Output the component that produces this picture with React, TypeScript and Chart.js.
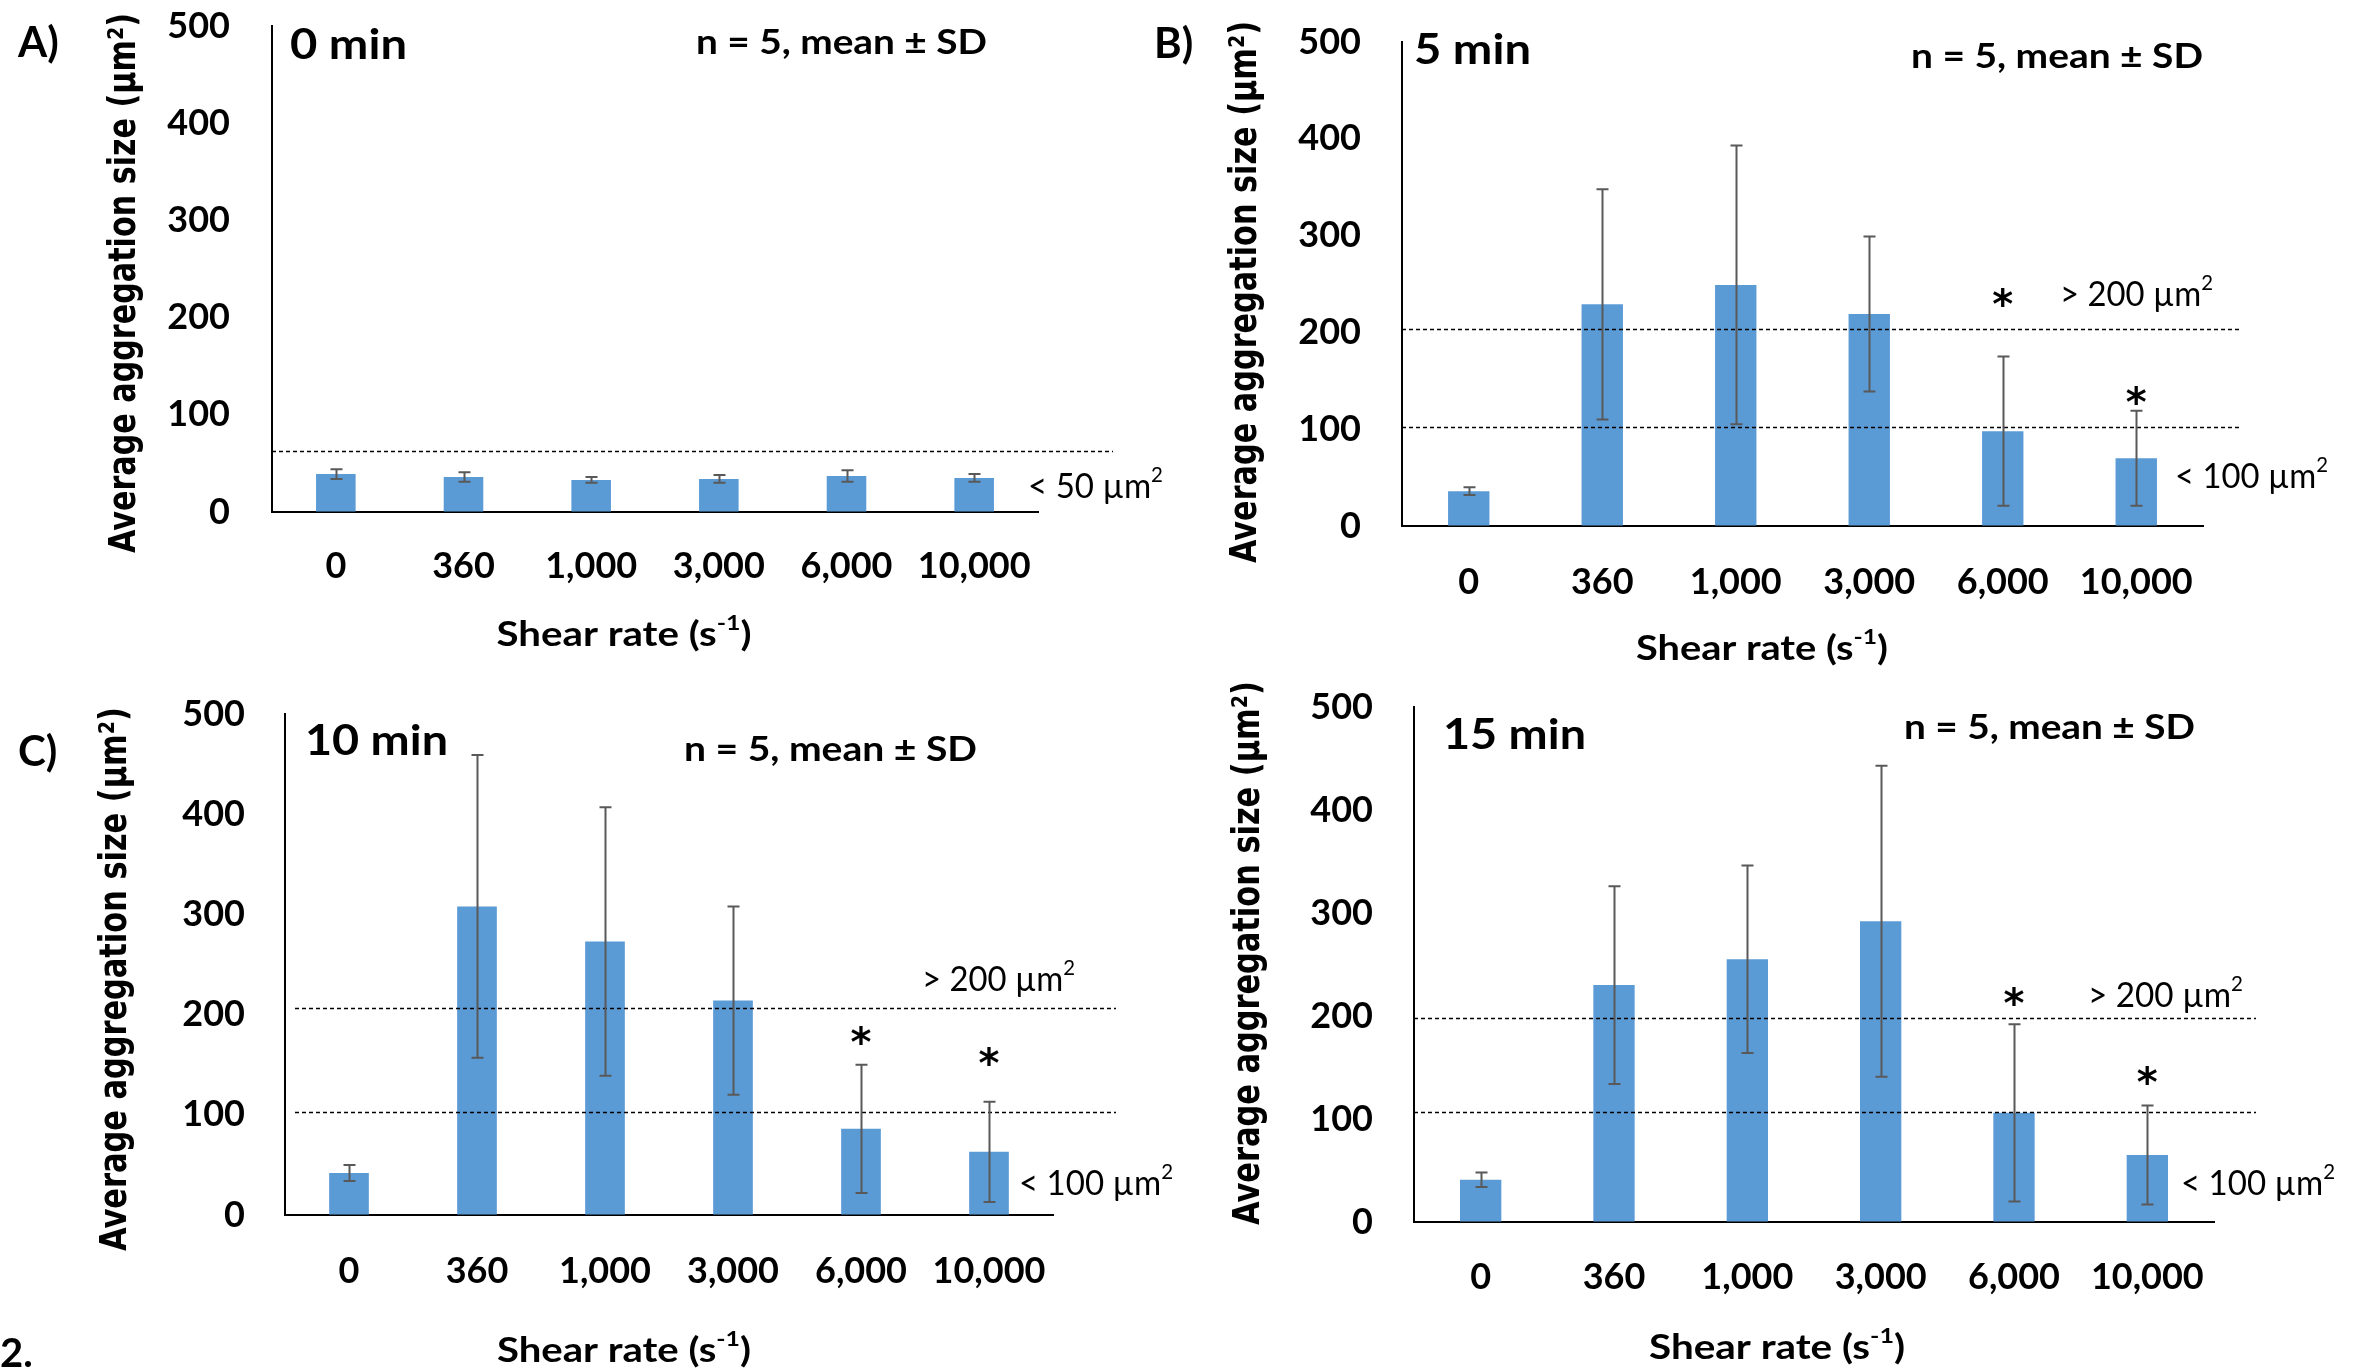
import React, { useEffect, useRef } from "react";
import { Chart, registerables } from "chart.js";

Chart.register(...registerables);

// ---------------- data ----------------
const categories = ["0", "360", "1,000", "3,000", "6,000", "10,000"];
const yTickValues = [0, 100, 200, 300, 400, 500];

const mean0 = [39, 36, 33, 34, 37, 35];
const sd0 = [5, 5, 3, 4, 6, 4];
const mean5 = [36, 229, 249, 219, 98, 70];
const sd5 = [4, 119, 144, 80, 77, 49];
const mean10 = [42, 308, 273, 214, 86, 63];
const sd10 = [8, 151, 134, 94, 64, 50];
const mean15 = [41, 230, 255, 292, 106, 65];
const sd15 = [7, 96, 91, 151, 86, 48];

const thresholds0 = [63];
const thresholds5 = [204, 102];
const thresholds10 = [207, 103];
const thresholds15 = [198, 107];

// value (µm²) at which a significance asterisk sits; null = none
const stars0 = [null, null, null, null, null, null];
const stars5 = [null, null, null, null, 237, 135];
const stars10 = [null, null, null, null, 180, 159];
const stars15 = [null, null, null, null, 219, 143];

// ---------------- layout / style ----------------
const W = 2356;
const H = 1372;
const Y_BOX = 150;
const X_BOX = 130;
const BAR_COLOR = "#5B9BD5";
const ERR_COLOR = "#595959";
const CLEAR = "rgba(0,0,0,0)";
const LATO = "Lato, 'Open Sans', sans-serif";
const DEJAVU = "'DejaVu Sans', Verdana, sans-serif";
const TICK_SIZE = 36;
const NOTE_SIZE = 34;

type Seg = { t: string; sup?: boolean };
type TextItem = {
  segs: Seg[];
  x: number;
  y: number;
  w?: number;
  size: number;
  bold?: boolean;
  align?: "left" | "center" | "right";
};

const um2 = (prefix: string): Seg[] => [{ t: prefix + " µm" }, { t: "2", sup: true }];

const PANELS = [
  {
    id: "A",
    means: mean0,
    sds: sd0,
    thresholds: thresholds0,
    stars: stars0,
    area: { l: 272, r: 1038, t: 26, b: 512 },
    yPad: 42,
    xPad: 32.4,
    dash: { x0: 272, x1: 1113 },
    yTitle: { x: 121, y: 283, len: 540 },
    xTitle: { x: 624, y: 633, w: 255 },
    texts: [
      { segs: [{ t: "A)" }], x: 18, y: 41, size: 42, bold: true },
      { segs: [{ t: "0 min" }], x: 290, y: 43, w: 117, size: 42, bold: true },
      { segs: [{ t: "n = 5, mean ± SD" }], x: 696, y: 41, w: 291, size: 34, bold: true },
      { segs: um2("< 50"), x: 1028, y: 485, w: 135, size: NOTE_SIZE },
    ] as TextItem[],
  },
  {
    id: "B",
    means: mean5,
    sds: sd5,
    thresholds: thresholds5,
    stars: stars5,
    area: { l: 1402, r: 2203, t: 42, b: 526 },
    yPad: 41,
    xPad: 34.4,
    dash: { x0: 1402, x1: 2242 },
    yTitle: { x: 1242, y: 292, len: 542 },
    xTitle: { x: 1762, y: 647, w: 252 },
    texts: [
      { segs: [{ t: "B)" }], x: 1154, y: 42, size: 42, bold: true },
      { segs: [{ t: "5 min" }], x: 1414, y: 48, w: 117, size: 42, bold: true },
      { segs: [{ t: "n = 5, mean ± SD" }], x: 1911, y: 55, w: 292, size: 34, bold: true },
      { segs: um2("> 200"), x: 2060, y: 293, w: 153, size: NOTE_SIZE },
      { segs: um2("< 100"), x: 2175, y: 475, w: 153, size: NOTE_SIZE },
    ] as TextItem[],
  },
  {
    id: "C",
    means: mean10,
    sds: sd10,
    thresholds: thresholds10,
    stars: stars10,
    area: { l: 285, r: 1053, t: 714, b: 1215 },
    yPad: 40,
    xPad: 34.4,
    dash: { x0: 295, x1: 1116 },
    yTitle: { x: 112, y: 979, len: 544 },
    xTitle: { x: 624, y: 1349, w: 254 },
    texts: [
      { segs: [{ t: "C)" }], x: 18, y: 750, size: 42, bold: true },
      { segs: [{ t: "10 min" }], x: 305, y: 739, w: 143, size: 42, bold: true },
      { segs: [{ t: "n = 5, mean ± SD" }], x: 684, y: 748, w: 293, size: 34, bold: true },
      { segs: um2("> 200"), x: 922, y: 978, w: 153, size: NOTE_SIZE },
      { segs: um2("< 100"), x: 1019, y: 1182, w: 154, size: NOTE_SIZE },
      { segs: [{ t: "2." }], x: 0, y: 1352, size: 40, bold: true },
    ] as TextItem[],
  },
  {
    id: "D",
    means: mean15,
    sds: sd15,
    thresholds: thresholds15,
    stars: stars15,
    area: { l: 1414, r: 2214, t: 707, b: 1222 },
    yPad: 41,
    xPad: 33.4,
    dash: { x0: 1414, x1: 2256 },
    yTitle: { x: 1245, y: 953, len: 544 },
    xTitle: { x: 1777, y: 1346, w: 256 },
    texts: [
      { segs: [{ t: "15 min" }], x: 1443, y: 733, w: 143, size: 42, bold: true },
      { segs: [{ t: "n = 5, mean ± SD" }], x: 1904, y: 726, w: 291, size: 34, bold: true },
      { segs: um2("> 200"), x: 2088, y: 994, w: 155, size: NOTE_SIZE },
      { segs: um2("< 100"), x: 2181, y: 1182, w: 154, size: NOTE_SIZE },
    ] as TextItem[],
  },
];

// ---------------- text helper ----------------
function drawSegs(
  ctx: CanvasRenderingContext2D,
  segs: Seg[],
  x: number,
  y: number,
  size: number,
  weight: string,
  family: string,
  fitW: number | undefined,
  align: "left" | "center" | "right",
  glyphCenter = false
) {
  const mainFont = `${weight} ${size}px ${family}`;
  const supSize = size * 0.62;
  const supFont = `${weight} ${supSize}px ${family}`;
  ctx.font = mainFont;
  const capH = ctx.measureText("H").actualBoundingBoxAscent;
  const widths = segs.map((s) => {
    ctx.font = s.sup ? supFont : mainFont;
    return ctx.measureText(s.t).width;
  });
  const total = widths.reduce((a, b) => a + b, 0);
  const sx = fitW ? fitW / total : 1;
  const drawnW = total * sx;
  const x0 = align === "center" ? x - drawnW / 2 : align === "right" ? x - drawnW : x;
  let baseline = y + capH / 2;
  if (glyphCenter) {
    ctx.font = mainFont;
    const m = ctx.measureText(segs.map((s) => s.t).join(""));
    baseline = y + (m.actualBoundingBoxAscent - m.actualBoundingBoxDescent) / 2;
  }
  ctx.save();
  ctx.translate(x0, baseline);
  ctx.scale(sx, 1);
  ctx.textAlign = "left";
  ctx.textBaseline = "alphabetic";
  ctx.fillStyle = "#000";
  let cx = 0;
  segs.forEach((s, i) => {
    if (s.sup) {
      ctx.font = supFont;
      const supCap = ctx.measureText("2").actualBoundingBoxAscent;
      ctx.fillText(s.t, cx, -(capH - supCap) - capH * 0.22);
    } else {
      ctx.font = mainFont;
      ctx.fillText(s.t, cx, 0);
    }
    cx += widths[i];
  });
  ctx.restore();
}

// ---------------- panel component ----------------
function Panel({ cfg }: { cfg: (typeof PANELS)[number] }) {
  const ref = useRef<HTMLCanvasElement>(null);

  useEffect(() => {
    const canvas = ref.current;
    if (!canvas) return;

    const overlay = {
      id: "overlay" + cfg.id,
      afterDatasetsDraw(chart: any) {
        const { ctx } = chart;
        const xs = chart.scales.x;
        const ys = chart.scales.y;
        // threshold dashed lines
        ctx.save();
        ctx.strokeStyle = "#000";
        ctx.lineWidth = 1.6;
        ctx.setLineDash([4, 3]);
        cfg.thresholds.forEach((v) => {
          const py = Math.round(ys.getPixelForValue(v)) + 0.5;
          ctx.beginPath();
          ctx.moveTo(cfg.dash.x0, py);
          ctx.lineTo(cfg.dash.x1, py);
          ctx.stroke();
        });
        ctx.restore();
        // error bars
        ctx.save();
        ctx.strokeStyle = ERR_COLOR;
        ctx.lineWidth = 2;
        cfg.means.forEach((m, i) => {
          const px = Math.round(xs.getPixelForValue(i)) + 0.5;
          const top = ys.getPixelForValue(m + cfg.sds[i]);
          const bot = ys.getPixelForValue(m - cfg.sds[i]);
          ctx.beginPath();
          ctx.moveTo(px, top);
          ctx.lineTo(px, bot);
          ctx.moveTo(px - 6, top);
          ctx.lineTo(px + 6, top);
          ctx.moveTo(px - 6, bot);
          ctx.lineTo(px + 6, bot);
          ctx.stroke();
        });
        ctx.restore();
      },
      afterDraw(chart: any) {
        const { ctx } = chart;
        const xs = chart.scales.x;
        const ys = chart.scales.y;
        // asterisks
        cfg.stars.forEach((v, i) => {
          if (v == null) return;
          drawSegs(ctx, [{ t: "*" }], xs.getPixelForValue(i), ys.getPixelForValue(v), 40, "bold", DEJAVU, undefined, "center", true);
        });
        // annotation texts
        cfg.texts.forEach((t) => {
          drawSegs(ctx, t.segs, t.x, t.y, t.size, t.bold ? "bold" : "normal", LATO, t.w, t.align || "left");
        });
        // x title
        drawSegs(
          ctx,
          [{ t: "Shear rate (s" }, { t: "-1", sup: true }, { t: ")" }],
          cfg.xTitle.x,
          cfg.xTitle.y,
          35,
          "bold",
          LATO,
          cfg.xTitle.w,
          "center"
        );
        // y title (rotated)
        ctx.save();
        ctx.translate(cfg.yTitle.x, cfg.yTitle.y);
        ctx.rotate(-Math.PI / 2);
        drawSegs(ctx, [{ t: "Average aggregation size (µm²)" }], 0, 0, 37, "bold", DEJAVU, cfg.yTitle.len, "center");
        ctx.restore();
      },
    };

    const tickFont = { family: LATO, size: TICK_SIZE, weight: "bold" as const };

    const chart = new Chart(canvas, {
      type: "bar",
      data: {
        labels: categories,
        datasets: [
          {
            data: cfg.means,
            backgroundColor: BAR_COLOR,
            borderWidth: 0,
            barPercentage: 0.31,
            categoryPercentage: 1,
          },
        ],
      },
      options: {
        responsive: false,
        animation: false,
        events: [],
        layout: {
          padding: {
            left: cfg.area.l - Y_BOX,
            right: W - cfg.area.r,
            top: cfg.area.t,
            bottom: H - cfg.area.b - X_BOX,
          },
        },
        plugins: {
          legend: { display: false },
          tooltip: { enabled: false },
          title: { display: false },
        },
        scales: {
          x: {
            type: "category",
            offset: true,
            grid: { display: true, drawOnChartArea: false, drawTicks: true, tickLength: cfg.xPad, color: CLEAR, tickColor: CLEAR },
            border: { display: true, color: "#000", width: 2 },
            ticks: {
              color: "#000",
              font: tickFont,
              padding: 0,
              maxRotation: 0,
              autoSkip: false,
            },
            afterFit: (s: any) => {
              s.height = X_BOX;
            },
          },
          y: {
            type: "linear",
            min: 0,
            max: 500,
            grid: { display: true, drawOnChartArea: false, drawTicks: true, tickLength: cfg.yPad, color: CLEAR, tickColor: CLEAR },
            border: { display: true, color: "#000", width: 2 },
            ticks: { color: "#000", font: tickFont, padding: 0 },
            afterBuildTicks: (s: any) => {
              s.ticks = yTickValues.map((v) => ({ value: v }));
            },
            afterFit: (s: any) => {
              s.width = Y_BOX;
            },
          },
        },
      },
      plugins: [overlay],
    } as any);

    return () => chart.destroy();
  }, [cfg]);

  return (
    <canvas
      ref={ref}
      width={W}
      height={H}
      style={{ position: "absolute", left: 0, top: 0, width: W, height: H }}
    />
  );
}

export default function App() {
  return (
    <div
      style={{
        position: "absolute",
        left: 0,
        top: 0,
        width: W,
        height: H,
        background: "#fff",
        overflow: "hidden",
      }}
    >
      {PANELS.map((p) => (
        <Panel key={p.id} cfg={p} />
      ))}
    </div>
  );
}
